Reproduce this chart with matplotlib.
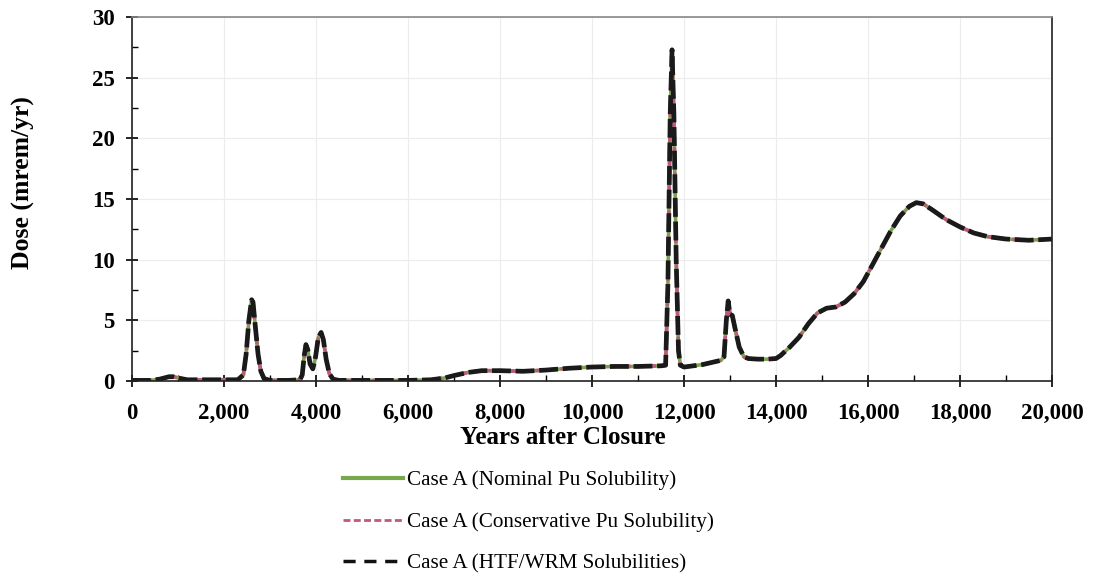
import numpy as np
import matplotlib.pyplot as plt
from matplotlib.ticker import MultipleLocator, FuncFormatter

# Years after closure
years = [0, 400, 600, 800, 900, 1000, 1200, 1600, 2000, 2300,
         2420, 2480, 2540, 2600, 2630, 2680, 2740, 2800, 2870, 3000,
         3400, 3650, 3700, 3740, 3780, 3820, 3870, 3930, 3990, 4050,
         4110, 4160, 4220, 4290, 4370, 4500, 5000, 6000, 6500, 6800,
         7000, 7300, 7600, 8000, 8500, 9000, 9500, 10000, 10500, 11000,
         11500, 11600, 11650, 11700, 11740, 11780, 11830, 11880, 11920, 12000,
         12400, 12800, 12870, 12920, 12960, 13000, 13050, 13100, 13200, 13300,
         13400, 13600, 13800, 14000, 14100, 14300, 14500, 14700, 14900, 15100,
         15300, 15500, 15700, 15900, 16100, 16300, 16500, 16700, 16900, 17050,
         17200, 17400, 17700, 18000, 18300, 18600, 19000, 19500, 20000]

# Dose (mrem/yr) - the three cases overlap almost exactly
dose_nominal = [0.05, 0.05, 0.15, 0.35, 0.35, 0.25, 0.1, 0.1, 0.1, 0.1,
                0.5, 2.2, 5.0, 6.7, 6.5, 4.5, 2.2, 0.8, 0.2, 0.05,
                0.05, 0.1, 0.5, 2.0, 3.0, 2.6, 1.4, 1.0, 2.0, 3.6,
                4.0, 3.4, 1.8, 0.6, 0.15, 0.05, 0.05, 0.05, 0.1, 0.25,
                0.45, 0.7, 0.85, 0.85, 0.8, 0.9, 1.05, 1.15, 1.2, 1.2,
                1.25, 1.3, 8.0, 22.0, 27.3, 22.0, 10.0, 2.5, 1.3, 1.15,
                1.35, 1.7, 2.0, 5.0, 6.6, 5.5, 5.4, 4.5, 2.8, 2.0,
                1.85, 1.8, 1.8, 1.85, 2.1, 2.8, 3.6, 4.7, 5.6, 6.0,
                6.1, 6.5, 7.2, 8.2, 9.6, 11.0, 12.4, 13.6, 14.4, 14.7,
                14.6, 14.1, 13.3, 12.7, 12.2, 11.9, 11.7, 11.6, 11.7]
dose_conservative = list(dose_nominal)
dose_htf = list(dose_nominal)

labels = ['Case A (Nominal Pu Solubility)',
          'Case A (Conservative Pu Solubility)',
          'Case A (HTF/WRM Solubilities)']

plt.rcParams['font.family'] = ['Liberation Serif', 'DejaVu Serif']

fig = plt.figure(figsize=(10.94, 5.77), dpi=100)
ax = fig.add_axes([0.1207, 0.3397, 0.8409, 0.6308])

ax.plot(years, dose_nominal, color='#77a84e', lw=2.6, label=labels[0])
ax.plot(years, dose_conservative, color='#c05a78', lw=2.6,
        dashes=(2, 1.5), label=labels[1])
ax.plot(years, dose_htf, color='#1a1a1a', lw=3.4,
        dashes=(4, 1.0), label=labels[2])

ax.set_xlim(0, 20000)
ax.set_ylim(0, 30)
ax.xaxis.set_major_locator(MultipleLocator(2000))
ax.xaxis.set_minor_locator(MultipleLocator(1000))
ax.yaxis.set_major_locator(MultipleLocator(5))
ax.yaxis.set_minor_locator(MultipleLocator(2.5))
ax.xaxis.set_major_formatter(FuncFormatter(lambda v, p: f'{int(v):,}'))
ax.tick_params(which='major', direction='inout', length=9, width=1.2,
               labelsize=16.5)
ax.tick_params(axis='x', which='major', pad=11)
ax.tick_params(axis='y', which='major', pad=8)
ax.tick_params(which='minor', direction='in', length=4, width=1)
for lab in ax.get_xticklabels() + ax.get_yticklabels():
    lab.set_fontweight('bold')

ax.grid(True, which='major', color='#ececec', lw=0.8)
ax.set_axisbelow(True)
for s in ax.spines.values():
    s.set_color('#222222')
    s.set_linewidth(1.2)
ax.spines['top'].set_color('#888888')

ax.set_xlabel('Years after Closure', fontsize=18, fontweight='bold')
ax.xaxis.set_label_coords(0.468, -0.125)
ax.set_ylabel('Dose (mrem/yr)', fontsize=18.5, fontweight='bold')
ax.yaxis.set_label_coords(-0.106, 0.544)

leg_handles = [
    plt.Line2D([], [], color='#77a84e', lw=3),
    plt.Line2D([], [], color='#c05a78', lw=2, dashes=(2.5, 1.2)),
    plt.Line2D([], [], color='#111111', lw=2.5, dashes=(3.5, 2.5)),
]
fig.legend(leg_handles, labels, loc='center', bbox_to_anchor=(0.483, 0.095),
           frameon=False, fontsize=15.2, handlelength=2.85, handletextpad=0.15,
           labelspacing=1.04)

fig.savefig('out.png', dpi=100)
